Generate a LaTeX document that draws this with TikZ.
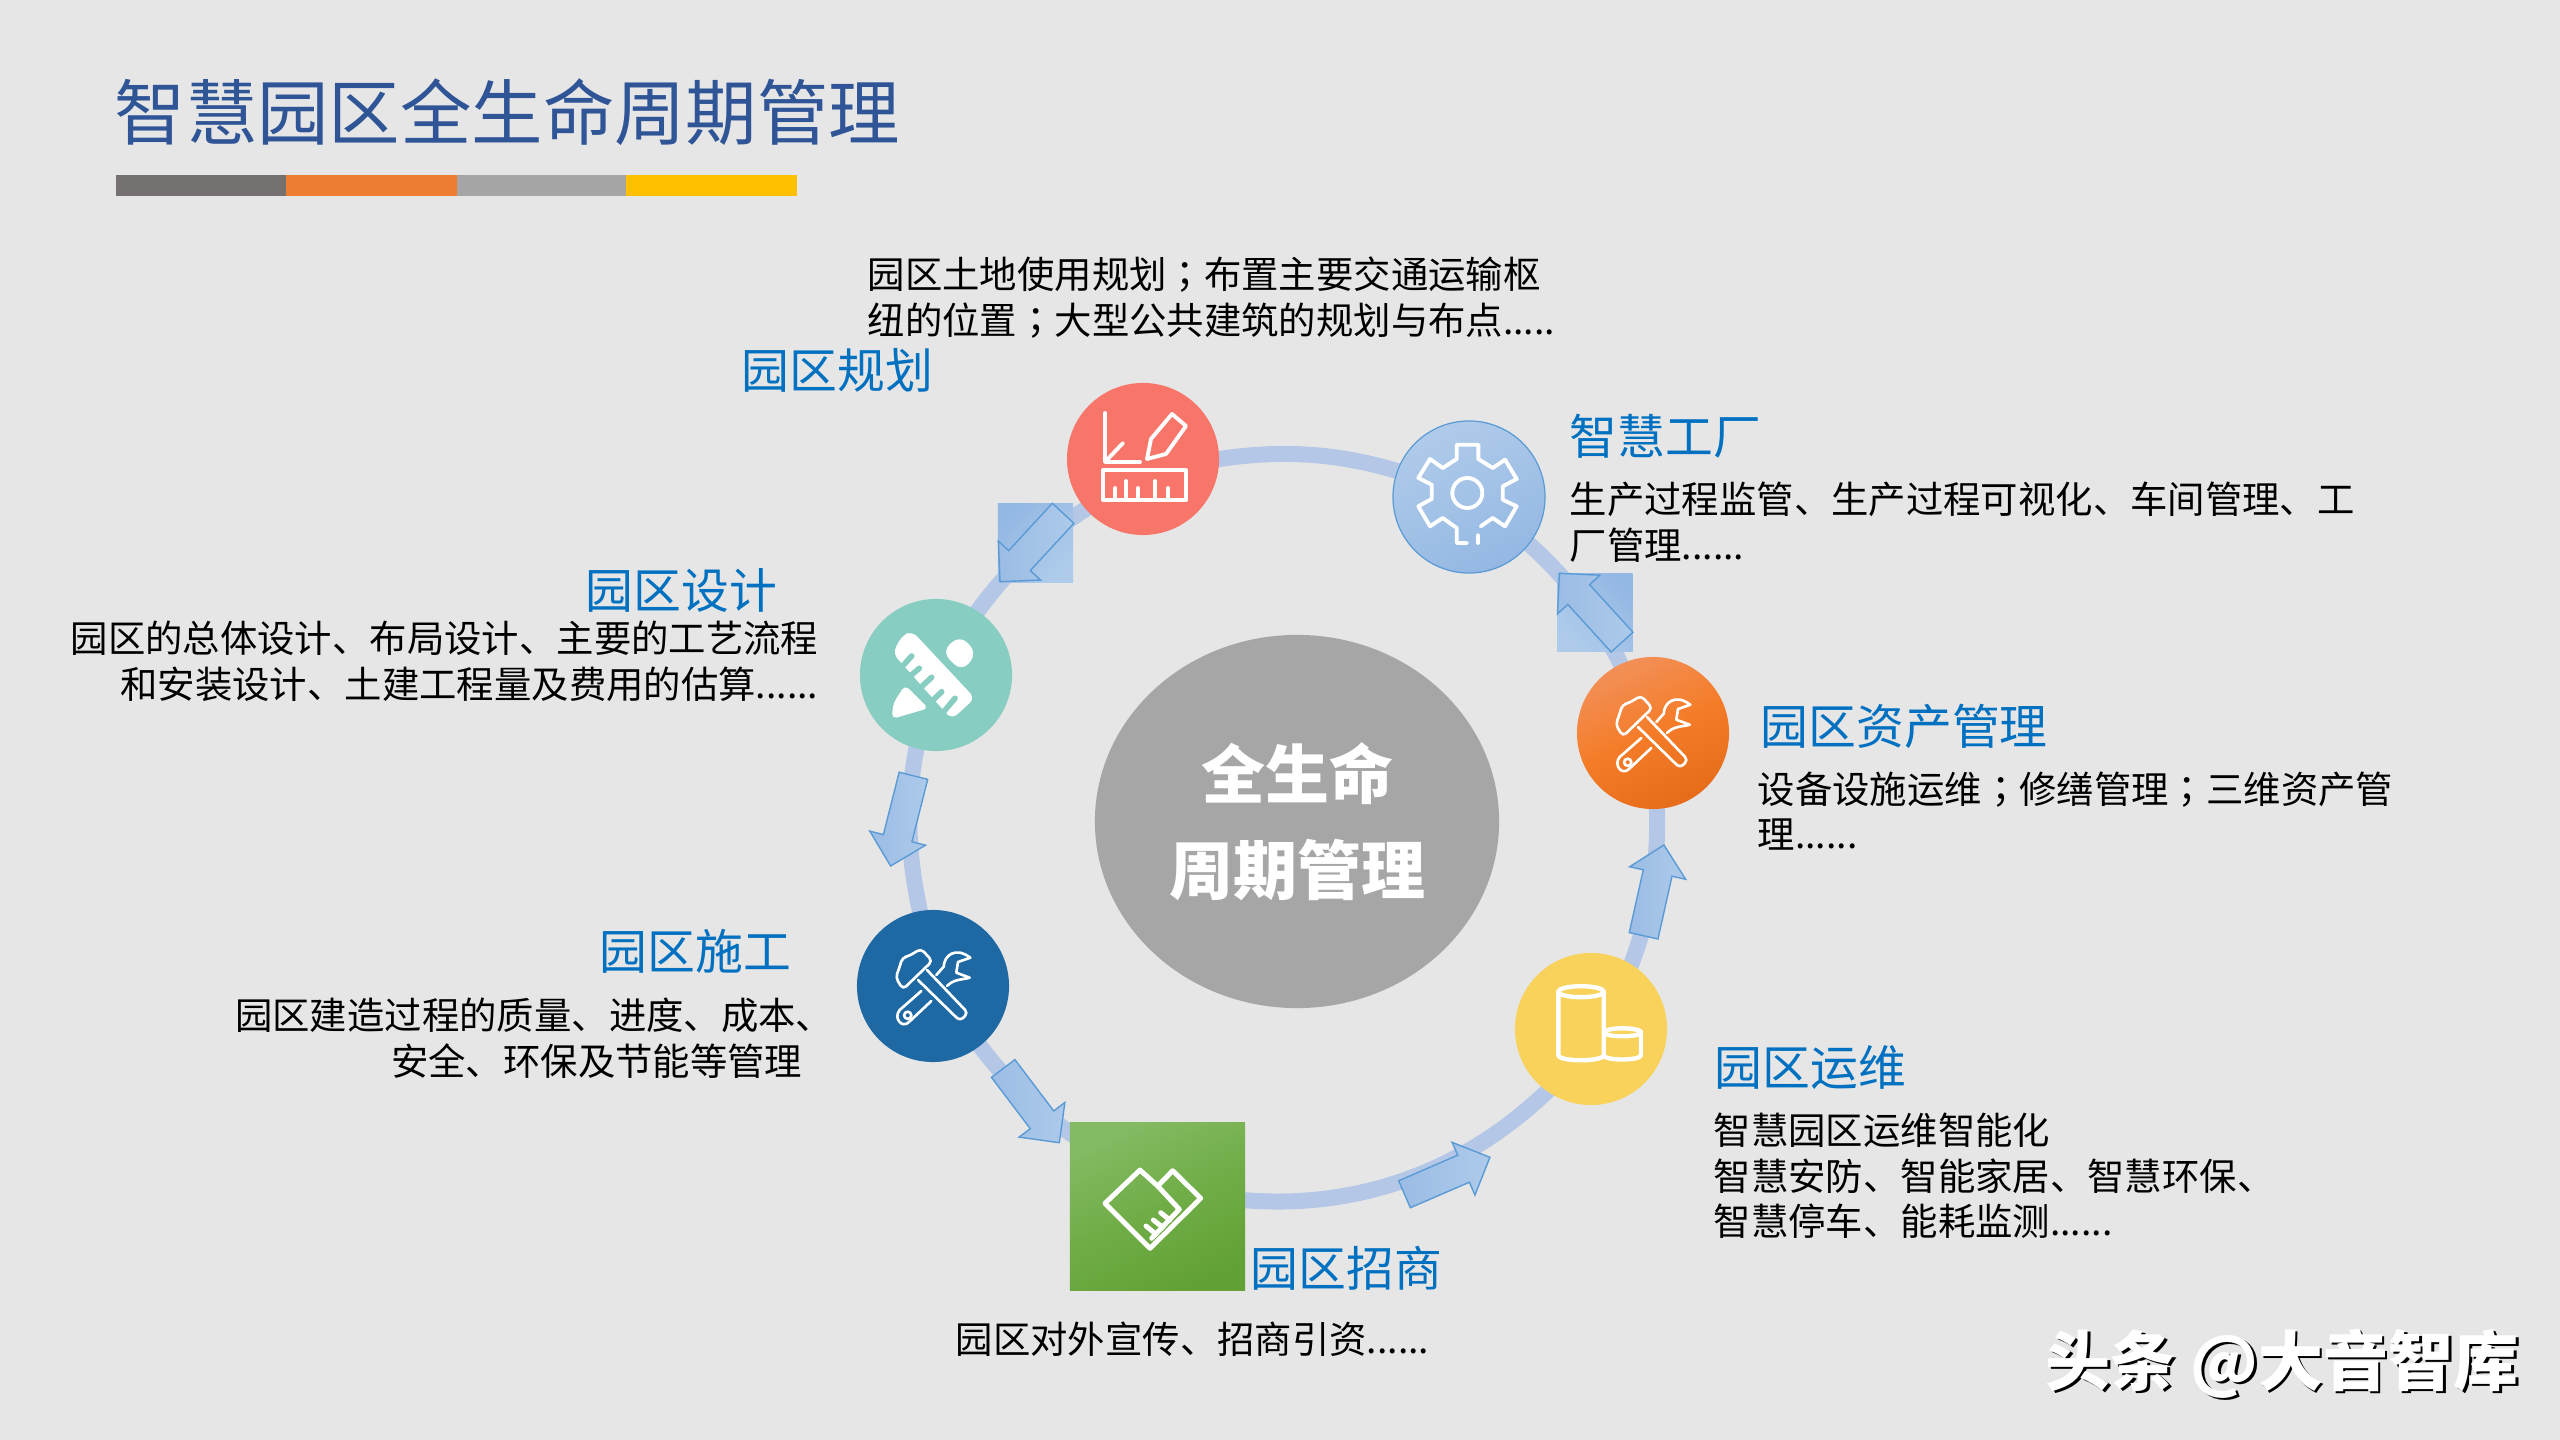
\documentclass[tikz,border=0pt]{standalone}
\usepackage{fontspec}
\setmainfont{Noto Sans CJK SC}
\newfontfamily\semifont{Noto Sans CJK TC}
\usepackage{tikz}
\usetikzlibrary{positioning,shapes.geometric,shapes.arrows}
\definecolor{pagebg}{HTML}{E6E6E6}
\definecolor{titleblue}{HTML}{2F5597}
\definecolor{headblue}{HTML}{0070C0}
\definecolor{ringblue}{HTML}{B4C7E7}
\definecolor{arrowedge}{HTML}{5B9BD5}
\definecolor{arrowdark}{HTML}{9BBCE5}
\definecolor{arrowlight}{HTML}{ADCAEA}
\definecolor{patchdark}{HTML}{94B8E4}
\definecolor{patchlight}{HTML}{AECBEA}
\definecolor{coral}{HTML}{F8756A}
\definecolor{mint}{HTML}{88CDC1}
\definecolor{navy}{HTML}{1E69A4}
\definecolor{sunny}{HTML}{F8D25A}
\definecolor{gearlight}{HTML}{B0CBEA}
\definecolor{geardark}{HTML}{94B8E3}
\definecolor{orangelight}{HTML}{F39058}
\definecolor{orangemid}{HTML}{F47C28}
\definecolor{orangedark}{HTML}{E66C1A}
\definecolor{greenlight}{HTML}{84BA63}
\definecolor{greenmid}{HTML}{70AD47}
\definecolor{greendark}{HTML}{62A136}
\definecolor{coregrey}{HTML}{A6A6A6}
\definecolor{barslate}{HTML}{767171}
\definecolor{barorange}{HTML}{ED7D31}
\definecolor{barsilver}{HTML}{A5A5A5}
\definecolor{bargold}{HTML}{FFC000}
\pgfdeclarelayer{ringlayer}
\pgfsetlayers{ringlayer,main}
\newcommand{\shadowtext}[1]{\rlap{\raisebox{-.7pt}{\kern.7pt\color{black}#1}}#1}
\newcommand{\semi}{{\semifont ；}}
\tikzset{
  iconline/.style={draw=white, line width=1.1pt, line join=round, line cap=round},
  toolicon/.pic={
    \draw[iconline,line width=.75pt,rounded corners=1.2pt] (-6,-16) -- (35,27) -- (27,35) -- (-15,-6);
    \draw[iconline,line width=.75pt,rounded corners=1.2pt] (-12,-37.3) -- (-.7,-25) -- (-30,3.3) -- (-37.3,-8.3) -- (-33.3,-19.3) -- (-30.7,-28.3) -- (-24,-30) -- cycle;
    \draw[iconline,line width=.75pt] (-11.7,5) -- (-33.3,24) .. controls (-40,32) and (-31,43) .. (-24,36) -- (-1.7,15);
    \draw[iconline,line width=.75pt] (-25.3,29.3) circle (3.6);
    \draw[iconline,line width=.75pt] (3.3,-11) -- (10.7,-19.3) .. controls (11,-30) and (22,-40) .. (37.3,-28.3) -- (25,-24) -- (23.3,-13.3) -- (36.7,-8.3) .. controls (28,-6) and (21,-7) .. (14,0);
  },
}
\begin{document}
\begin{tikzpicture}[
  x=0.01cm, y=-0.01cm,
  hub/.style={circle, minimum size=1.52cm, inner sep=0, outer sep=0},
  heading/.style={inner sep=0, text=headblue, font=\fontsize{13.6}{16}\selectfont},
  desc/.style={inner sep=0, text=black, font=\fontsize{10.63}{13}\selectfont},
  barseg/.style={rectangle, inner sep=0, outer sep=0, minimum height=.21cm},
  ringlink/.style={line width=.16cm, draw=ringblue, looseness=.87, shorten <=-.1cm, shorten >=-.1cm},
  flowarrow/.style={single arrow, anchor=tip, draw=arrowedge, line width=.4pt, left color=arrowdark, right color=arrowlight,
    minimum height=.93cm, minimum width=.56cm, single arrow head extend=.14cm, inner xsep=0, inner ysep=.14cm, outer sep=0},
  patch/.style={rectangle, inner sep=0, outer sep=0, top color=patchlight, bottom color=patchdark},
]
\useasboundingbox (0,0) rectangle (2560,1440);
% heading and colour bar
\node[inner sep=0, anchor=west, text=titleblue, font=\fontsize{20.3}{24}\selectfont] (title) at (114,112) {智慧园区全生命周期管理};
\node[barseg, anchor=north west, minimum width=1.70cm, fill=barslate] (bara) at (116,175) {};
\node[barseg, right=0pt of bara, minimum width=1.71cm, fill=barorange] (barb) {};
\node[barseg, right=0pt of barb, minimum width=1.69cm, fill=barsilver] (barc) {};
\node[barseg, right=0pt of barc, minimum width=1.71cm, fill=bargold] (bard) {};
% centre
\node[ellipse, inner sep=0, minimum width=4.04cm, minimum height=3.73cm, fill=coregrey, text=white, align=center,
  font=\fontsize{18.2}{27.6}\selectfont\bfseries] (core) at (1297,821.5) {\raisebox{-1.1pt}{全生命}\\\raisebox{-.9pt}{周期管理}};
% stages
\node[hub, fill=coral] (plan) at (1143,459) {};
\node[hub, draw=arrowedge, line width=.35pt, top color=gearlight, bottom color=geardark, shading angle=25] (factory) at (1469,497) {};
\node[hub, top color=orangelight, bottom color=orangedark, middle color=orangemid, shading angle=25] (asset) at (1653,733) {};
\node[hub, fill=sunny] (ops) at (1591,1029) {};
\node[rectangle, inner sep=0, outer sep=0, minimum width=1.75cm, minimum height=1.67cm, top color=greenlight, bottom color=greendark, middle color=greenmid, shading angle=25] (shop) at (1157.5,1206.5) {};
\node[hub, fill=navy] (build) at (933,986) {};
\node[hub, fill=mint] (design) at (936,675) {};
% ring
\begin{pgfonlayer}{ringlayer}
\fill[pagebg] (0,0) rectangle (2560,1440);
\draw[ringlink] (factory.160) to[out=162.2, in=9.8] (plan.0);
\draw[ringlink] (plan.221) to[out=211.8, in=54.8] (design.57);
\draw[ringlink] (design.255.7) to[out=257.8, in=103] (build.100.9);
\draw[ringlink] (build.-52.1) to[out=305.8, in=145.3] (shop.140.5);
\draw[ringlink, looseness=.895] (shop.4.9) to[out=354.2, in=225] (ops.235.2);
\draw[ringlink] (ops.58.3) to[out=68.5, in=272.8] (asset.-87.3);
\draw[ringlink] (asset.115.8) to[out=115.7, in=-41] (factory.-38.8);
\end{pgfonlayer}
% arrows along the ring
\node[patch, minimum width=.75cm, minimum height=.78cm, shading angle=225] (patcha) at (1035.5,543) {};
\node[patch, minimum width=.75cm, minimum height=.78cm, shading angle=135] (patchb) at (1595,612.5) {};
\node[flowarrow, rotate=227.3] (arrowa) at (1000,581.7) {};
\node[flowarrow, rotate=255.8] (arrowb) at (890.6,866) {};
\node[flowarrow, rotate=-52.9] (arrowc) at (1059.3,1142.7) {};
\node[flowarrow, rotate=23.4] (arrowd) at (1489.9,1157.3) {};
\node[flowarrow, rotate=77.4] (arrowe) at (1663.9,845) {};
\node[flowarrow, rotate=132.3] (arrowf) at (1559.4,573.3) {};
% icons
\begin{scope}[shift={(plan.center)}]
  \draw[iconline] (-38,-46) -- (-38,3) -- (-3,3);
  \draw[iconline] (-38,3) -- (-20,-16);
  \draw[iconline] (29,-45) -- (43,-33) -- (23,-5) -- (4,0) -- (8,-20) -- cycle;
  \draw[iconline] (-40,11) rectangle (43,41);
  \foreach \px/\py in {-28/29,-17/22,-5/29,12/22,25/29}
    \draw[iconline] (\px,41) -- (\px,\py);
\end{scope}
\begin{scope}[shift={(factory.center)}]
  \draw[iconline] (-2,46) -- (-12.3,46) -- (-12.3,31) -- (-26.3,21) -- (-39,29.3) -- (-50.7,9.3) -- (-37.3,2) -- (-37.3,-12.3) -- (-50.7,-19) -- (-39,-38) -- (-26.3,-29) -- (-12.3,-38) -- (-12.3,-52.3) -- (9.3,-52.3) -- (9.3,-38) -- (23.7,-29) -- (36,-37.3) -- (47.7,-18) -- (33.7,-10.7) -- (33.7,2.7) -- (47.7,9.3) -- (36,29.3) -- (23.7,21) -- (11.7,29.3);
  \draw[iconline] (8.7,38.3) -- (8.7,46);
  \draw[iconline] (-1.7,-4) circle (15);
\end{scope}
\pic at (asset) {toolicon};
\pic at (build) {toolicon};
\begin{scope}[shift={(ops.center)}]
  \draw[iconline, line width=1.25pt] (-10,-37.3) ellipse [x radius=22.7, y radius=5.5];
  \draw[iconline, line width=1.25pt] (-32.7,-37.3) -- (-32.7,26) .. controls (-32.7,33) and (12.7,33) .. (12.7,26) -- (12.7,-37.3);
  \draw[iconline, line width=1.25pt] (31.5,3.3) ellipse [x radius=18.5, y radius=4];
  \draw[iconline, line width=1.25pt] (12.7,26) .. controls (12.7,32) and (50,32) .. (50,26) -- (50,3.3);
\end{scope}
\begin{scope}[shift={(shop.center)}]
  \draw[iconline, line width=1.4pt] (-17.5,-36.5) -- (-52.5,-3.2) -- (-7.5,41.8) -- (43.2,-8.2) -- (15.2,-35.8) -- (.2,-20.5) -- cycle;
  \draw[iconline, line width=1.4pt] (.2,-20.5) -- (21.8,2.8) -- (-5.8,31.8);
  \draw[iconline, line width=1.4pt] (-1.8,27.5) -- (-11.5,19.5);
  \draw[iconline, line width=1.4pt] (5.2,20.8) -- (-4.2,13.5);
  \draw[iconline, line width=1.4pt] (12.5,13.5) -- (3.2,6.2);
\end{scope}
\begin{scope}[shift={(design.center)}]
  \fill[white, rounded corners=2pt] (-34.3,-39) -- (-43.3,-21.7) -- (15.7,44.3) -- (39,23.3) -- (-24,-44) -- cycle;
  \fill[white, rounded corners=3pt] (24,-40) -- (41.3,-21.7) -- (25.7,-3.3) -- (5.7,-23.3) -- cycle;
  \fill[white, rounded corners=1.5pt] (-31,10) -- (-7.7,33.3) -- (-44.3,44) -- (-42.7,28.3) -- cycle;
  \foreach \ax/\ay/\bx/\by in {-36/-6/-24.3/-19, -28/3/-16.7/-6.7, -19/16/-4.3/2.3, -6/28/5.7/16.7, 5/40/19/23.3}
    \draw[mint, line width=1.6pt, line cap=round] (\ax,\ay) -- (\bx,\by);
\end{scope}
% labels
\node[heading, anchor=west] (plantitle) at (741,370.5) {园区规划};
\node[desc, anchor=west, align=left] (plantext) at (867,297.5) {园区土地使用规划\semi 布置主要交通运输枢\\纽的位置\semi 大型公共建筑的规划与布点.....};
\node[heading, anchor=west] (factorytitle) at (1569,436.5) {智慧工厂};
\node[desc, anchor=west, align=left] (factorytext) at (1569,522) {生产过程监管、生产过程可视化、车间管理、工\\厂管理......};
\node[heading, anchor=west] (assettitle) at (1760,726.5) {园区资产管理};
\node[desc, anchor=west, align=left] (assettext) at (1757,811) {设备设施运维\semi 修缮管理\semi 三维资产管\\理......};
\node[heading, anchor=west] (opstitle) at (1714,1067.5) {园区运维};
\node[desc, anchor=west, align=left] (opstext) at (1713,1176) {智慧园区运维智能化\\智慧安防、智能家居、智慧环保、\\智慧停车、能耗监测......};
\node[heading, anchor=west] (shoptitle) at (1250,1268.5) {园区招商};
\node[desc, anchor=west] (shoptext) at (955,1339) {园区对外宣传、招商引资......};
\node[heading, anchor=west] (buildtitle) at (599,951.5) {园区施工};
\node[desc, anchor=east, align=right] (buildtext) at (803,1038) {园区建造过程的质量、进度、成本、\kern-.31cm\\安全、环保及节能等管理};
\node[heading, anchor=west] (designtitle) at (585,590.5) {园区设计};
\node[desc, anchor=east, align=right] (designtext) at (819,661.5) {园区的总体设计、布局设计、主要的工艺流程\\和安装设计、土建工程量及费用的估算......};
\node[inner sep=0, anchor=west, text=white, font=\fontsize{18.5}{22}\selectfont\bfseries] (mark) at (2045,1365) {\shadowtext{头条 @大音智库}};
\end{tikzpicture}
\end{document}
